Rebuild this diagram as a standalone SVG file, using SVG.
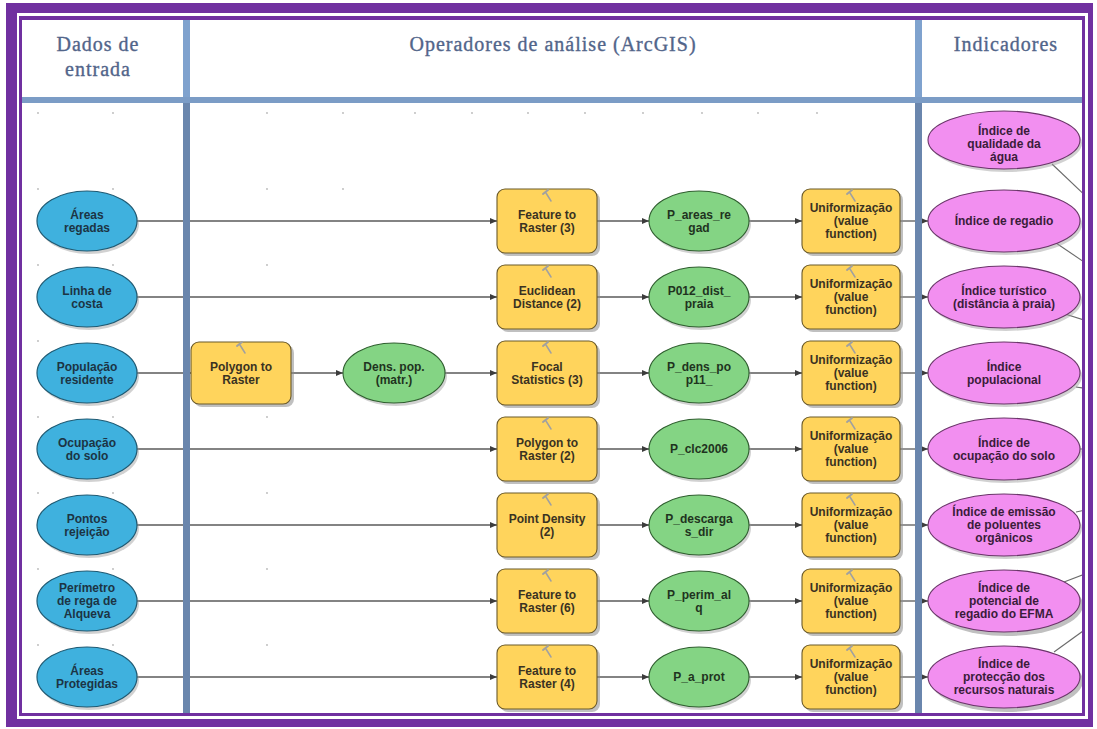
<svg xmlns="http://www.w3.org/2000/svg" width="1097" height="729" viewBox="0 0 1097 729">
  <defs>
    <style>
      .hdr { font-family: "Liberation Serif", "DejaVu Serif", serif; font-size: 20px; fill: #52658a; stroke: #52658a; stroke-width: 0.35; text-anchor: middle; letter-spacing: 1px; }
      .lbl { font-family: "Liberation Sans", Arial, sans-serif; font-size: 12px; font-weight: bold; text-anchor: middle; }
      .in-e { fill: #3fb1de; stroke: #1f5a73; stroke-width: 1.2; }
      .in-t { fill: #1c3444; }
      .tool { fill: #ffd45c; stroke: #6b5a2a; stroke-width: 1.1; }
      .tool-t { fill: #3a3222; }
      .data { fill: #84d484; stroke: #2f5e2f; stroke-width: 1.1; }
      .data-t { fill: #1f3320; }
      .ind { fill: #f28ff0; stroke: #6a3569; stroke-width: 1.1; }
      .ind-t { fill: #3a1c3a; }
      .shadow { fill: #8c8c8c; opacity: 0.55; }
      .eshadow { fill: #9a9a9a; opacity: 0.45; }
      .conn line { stroke: #5a5a5a; stroke-width: 1.3; }
      .conn line.arr { marker-end: url(#arrow); }
      .ext line { stroke: #6a6a6a; stroke-width: 1.1; }
      .icon { stroke: #a0a0a0; fill: none; stroke-linecap: round; }
      .dot { fill: #b8b8b8; }
    </style>
    <marker id="arrow" markerWidth="7" markerHeight="6" refX="7" refY="3" orient="auto" markerUnits="userSpaceOnUse">
      <path d="M0,0 L7,3 L0,6 z" fill="#3c3c3c"/>
    </marker>
    <clipPath id="content">
      <rect x="22" y="20" width="1060" height="693"/>
    </clipPath>
    <!-- small tool glyph placed at the top of every process box -->
    <g id="hammer">
      <path class="icon" stroke-width="1.5" d="M-1,-4 L4,4"/>
      <path class="icon" stroke-width="2" d="M-4,-3 L1,-7"/>
    </g>
  </defs>

  <!-- double purple frame -->
  <rect x="6" y="3" width="1087" height="724" fill="#7030a0"/>
  <rect x="17" y="13" width="1071" height="706" fill="#ffffff"/>
  <rect x="19" y="16" width="1066" height="700" fill="#7030a0"/>
  <rect x="22" y="20" width="1060" height="693" fill="#ffffff"/>

  <g clip-path="url(#content)">
    <!-- model grid dots -->
    <g id="grid">
      <circle class="dot" cx="38" cy="113" r="0.9"/><circle class="dot" cx="113" cy="113" r="0.9"/>
      <circle class="dot" cx="267" cy="113" r="0.9"/><circle class="dot" cx="343" cy="113" r="0.9"/>
      <circle class="dot" cx="415" cy="113" r="0.9"/><circle class="dot" cx="472" cy="113" r="0.9"/>
      <circle class="dot" cx="528" cy="113" r="0.9"/><circle class="dot" cx="585" cy="113" r="0.9"/>
      <circle class="dot" cx="643" cy="113" r="0.9"/><circle class="dot" cx="702" cy="113" r="0.9"/>
      <circle class="dot" cx="758" cy="113" r="0.9"/><circle class="dot" cx="817" cy="113" r="0.9"/>
      <circle class="dot" cx="38" cy="189" r="0.9"/><circle class="dot" cx="113" cy="189" r="0.9"/>
      <circle class="dot" cx="267" cy="189" r="0.9"/><circle class="dot" cx="343" cy="189" r="0.9"/>
      <circle class="dot" cx="38" cy="265" r="0.9"/><circle class="dot" cx="113" cy="265" r="0.9"/>
      <circle class="dot" cx="267" cy="265" r="0.9"/><circle class="dot" cx="38" cy="341" r="0.9"/>
      <circle class="dot" cx="38" cy="417" r="0.9"/><circle class="dot" cx="113" cy="417" r="0.9"/>
      <circle class="dot" cx="267" cy="417" r="0.9"/><circle class="dot" cx="38" cy="493" r="0.9"/>
      <circle class="dot" cx="113" cy="493" r="0.9"/><circle class="dot" cx="267" cy="493" r="0.9"/>
      <circle class="dot" cx="38" cy="569" r="0.9"/><circle class="dot" cx="113" cy="569" r="0.9"/>
      <circle class="dot" cx="267" cy="569" r="0.9"/><circle class="dot" cx="38" cy="645" r="0.9"/>
      <circle class="dot" cx="113" cy="645" r="0.9"/><circle class="dot" cx="267" cy="645" r="0.9"/>
    </g>

    <!-- connectors -->
    <g id="connectors" class="conn">
      <line class="arr" x1="137" y1="221" x2="497" y2="221"/>
      <line class="arr" x1="597" y1="221" x2="649" y2="221"/>
      <line class="arr" x1="749" y1="221" x2="802" y2="221"/>
      <line class="arr" x1="900" y1="221" x2="928" y2="221"/>

      <line class="arr" x1="137" y1="297" x2="497" y2="297"/>
      <line class="arr" x1="597" y1="297" x2="649" y2="297"/>
      <line class="arr" x1="749" y1="297" x2="802" y2="297"/>
      <line class="arr" x1="900" y1="297" x2="928" y2="297"/>

      <line class="arr" x1="137" y1="373" x2="191" y2="373"/>
      <line class="arr" x1="291" y1="373" x2="343" y2="373"/>
      <line class="arr" x1="445" y1="373" x2="497" y2="373"/>
      <line class="arr" x1="597" y1="373" x2="649" y2="373"/>
      <line class="arr" x1="749" y1="373" x2="802" y2="373"/>
      <line class="arr" x1="900" y1="373" x2="928" y2="373"/>

      <line class="arr" x1="137" y1="449" x2="497" y2="449"/>
      <line class="arr" x1="597" y1="449" x2="649" y2="449"/>
      <line class="arr" x1="749" y1="449" x2="802" y2="449"/>
      <line class="arr" x1="900" y1="449" x2="928" y2="449"/>

      <line class="arr" x1="137" y1="525" x2="497" y2="525"/>
      <line class="arr" x1="597" y1="525" x2="649" y2="525"/>
      <line class="arr" x1="749" y1="525" x2="802" y2="525"/>
      <line class="arr" x1="900" y1="525" x2="928" y2="525"/>

      <line class="arr" x1="137" y1="601" x2="497" y2="601"/>
      <line class="arr" x1="597" y1="601" x2="649" y2="601"/>
      <line class="arr" x1="749" y1="601" x2="802" y2="601"/>
      <line class="arr" x1="900" y1="601" x2="928" y2="601"/>

      <line class="arr" x1="137" y1="677" x2="497" y2="677"/>
      <line class="arr" x1="597" y1="677" x2="649" y2="677"/>
      <line class="arr" x1="749" y1="677" x2="802" y2="677"/>
      <line class="arr" x1="900" y1="677" x2="928" y2="677"/>
    </g>
    <!-- indicator links leaving the frame to the right -->
    <g id="outgoing" class="ext">
      <line x1="1052" y1="164" x2="1090" y2="200"/>
      <line x1="1056" y1="243" x2="1090" y2="266"/>
      <line x1="1065" y1="314" x2="1090" y2="322"/>
      <line x1="1076" y1="387" x2="1090" y2="389"/>
      <line x1="1080" y1="449" x2="1090" y2="449"/>
      <line x1="1076" y1="512" x2="1090" y2="509"/>
      <line x1="1064" y1="582" x2="1090" y2="572"/>
      <line x1="1054" y1="652" x2="1090" y2="626"/>
    </g>

    <!-- column and header rules -->
    <g id="rules">
      <rect x="22" y="97" width="1060" height="6" fill="#7b9cc6"/>
      <rect x="183" y="20" width="7" height="77" fill="#7fa2ce"/>
      <rect x="183" y="103" width="7" height="610" fill="#6a86ad"/>
      <rect x="915" y="20" width="7" height="77" fill="#7fa2ce"/>
      <rect x="915" y="103" width="7" height="610" fill="#6a86ad"/>
    </g>

    <!-- headers -->
    <g id="headers">
      <text class="hdr" x="98" y="51">Dados de</text>
      <text class="hdr" x="98" y="76">entrada</text>
      <text class="hdr" x="553" y="51">Operadores de análise (ArcGIS)</text>
      <text class="hdr" x="1006" y="51">Indicadores</text>
    </g>

    <!-- input datasets -->
    <g id="in-areas-regadas">
      <ellipse class="eshadow" cx="89" cy="224" rx="50" ry="30"/>
      <ellipse class="in-e" cx="87" cy="221" rx="50" ry="30"/>
      <text class="lbl in-t" x="87" y="219">Áreas</text>
      <text class="lbl in-t" x="87" y="232">regadas</text>
    </g>
    <g id="in-linha-costa">
      <ellipse class="eshadow" cx="89" cy="300" rx="50" ry="30"/>
      <ellipse class="in-e" cx="87" cy="297" rx="50" ry="30"/>
      <text class="lbl in-t" x="87" y="295">Linha de</text>
      <text class="lbl in-t" x="87" y="308">costa</text>
    </g>
    <g id="in-populacao">
      <ellipse class="eshadow" cx="89" cy="376" rx="50" ry="30"/>
      <ellipse class="in-e" cx="87" cy="373" rx="50" ry="30"/>
      <text class="lbl in-t" x="87" y="371">População</text>
      <text class="lbl in-t" x="87" y="384">residente</text>
    </g>
    <g id="in-ocupacao">
      <ellipse class="eshadow" cx="89" cy="452" rx="50" ry="30"/>
      <ellipse class="in-e" cx="87" cy="449" rx="50" ry="30"/>
      <text class="lbl in-t" x="87" y="447">Ocupação</text>
      <text class="lbl in-t" x="87" y="460">do solo</text>
    </g>
    <g id="in-pontos">
      <ellipse class="eshadow" cx="89" cy="528" rx="50" ry="30"/>
      <ellipse class="in-e" cx="87" cy="525" rx="50" ry="30"/>
      <text class="lbl in-t" x="87" y="523">Pontos</text>
      <text class="lbl in-t" x="87" y="536">rejeição</text>
    </g>
    <g id="in-perimetro">
      <ellipse class="eshadow" cx="89" cy="604" rx="50" ry="30"/>
      <ellipse class="in-e" cx="87" cy="601" rx="50" ry="30"/>
      <text class="lbl in-t" x="87" y="592">Perímetro</text>
      <text class="lbl in-t" x="87" y="605">de rega de</text>
      <text class="lbl in-t" x="87" y="618">Alqueva</text>
    </g>
    <g id="in-protegidas">
      <ellipse class="eshadow" cx="89" cy="680" rx="50" ry="30"/>
      <ellipse class="in-e" cx="87" cy="677" rx="50" ry="30"/>
      <text class="lbl in-t" x="87" y="675">Áreas</text>
      <text class="lbl in-t" x="87" y="688">Protegidas</text>
    </g>

    <!-- Polygon to Raster and its output -->
    <g id="tool-polygon-raster">
      <rect class="shadow" x="194" y="345" width="100" height="62" rx="8"/>
      <rect class="tool" x="191" y="342" width="100" height="62" rx="8"/>
      <use href="#hammer" x="241" y="349"/>
      <text class="lbl tool-t" x="241" y="371">Polygon to</text>
      <text class="lbl tool-t" x="241" y="384">Raster</text>
    </g>
    <g id="data-dens-pop">
      <ellipse class="eshadow" cx="396" cy="376" rx="51" ry="30"/>
      <ellipse class="data" cx="394" cy="373" rx="51" ry="30"/>
      <text class="lbl data-t" x="394" y="371">Dens. pop.</text>
      <text class="lbl data-t" x="394" y="384">(matr.)</text>
    </g>

    <!-- first tool column -->
    <g id="tool-feat-raster-3">
      <rect class="shadow" x="500" y="192" width="100" height="64" rx="8"/>
      <rect class="tool" x="497" y="189" width="100" height="64" rx="8"/>
      <use href="#hammer" x="547" y="197"/>
      <text class="lbl tool-t" x="547" y="219">Feature to</text>
      <text class="lbl tool-t" x="547" y="232">Raster (3)</text>
    </g>
    <g id="tool-euclidean-2">
      <rect class="shadow" x="500" y="268" width="100" height="64" rx="8"/>
      <rect class="tool" x="497" y="265" width="100" height="64" rx="8"/>
      <use href="#hammer" x="547" y="273"/>
      <text class="lbl tool-t" x="547" y="295">Euclidean</text>
      <text class="lbl tool-t" x="547" y="308">Distance (2)</text>
    </g>
    <g id="tool-focal-3">
      <rect class="shadow" x="500" y="344" width="100" height="64" rx="8"/>
      <rect class="tool" x="497" y="341" width="100" height="64" rx="8"/>
      <use href="#hammer" x="547" y="349"/>
      <text class="lbl tool-t" x="547" y="371">Focal</text>
      <text class="lbl tool-t" x="547" y="384">Statistics (3)</text>
    </g>
    <g id="tool-polygon-raster-2">
      <rect class="shadow" x="500" y="420" width="100" height="64" rx="8"/>
      <rect class="tool" x="497" y="417" width="100" height="64" rx="8"/>
      <use href="#hammer" x="547" y="425"/>
      <text class="lbl tool-t" x="547" y="447">Polygon to</text>
      <text class="lbl tool-t" x="547" y="460">Raster (2)</text>
    </g>
    <g id="tool-point-density-2">
      <rect class="shadow" x="500" y="496" width="100" height="64" rx="8"/>
      <rect class="tool" x="497" y="493" width="100" height="64" rx="8"/>
      <use href="#hammer" x="547" y="501"/>
      <text class="lbl tool-t" x="547" y="523">Point Density</text>
      <text class="lbl tool-t" x="547" y="536">(2)</text>
    </g>
    <g id="tool-feat-raster-6">
      <rect class="shadow" x="500" y="572" width="100" height="64" rx="8"/>
      <rect class="tool" x="497" y="569" width="100" height="64" rx="8"/>
      <use href="#hammer" x="547" y="577"/>
      <text class="lbl tool-t" x="547" y="599">Feature to</text>
      <text class="lbl tool-t" x="547" y="612">Raster (6)</text>
    </g>
    <g id="tool-feat-raster-4">
      <rect class="shadow" x="500" y="648" width="100" height="64" rx="8"/>
      <rect class="tool" x="497" y="645" width="100" height="64" rx="8"/>
      <use href="#hammer" x="547" y="653"/>
      <text class="lbl tool-t" x="547" y="675">Feature to</text>
      <text class="lbl tool-t" x="547" y="688">Raster (4)</text>
    </g>

    <!-- intermediate rasters -->
    <g id="data-areas-regad">
      <ellipse class="eshadow" cx="701" cy="224" rx="50" ry="30"/>
      <ellipse class="data" cx="699" cy="221" rx="50" ry="30"/>
      <text class="lbl data-t" x="699" y="219">P_areas_re</text>
      <text class="lbl data-t" x="699" y="232">gad</text>
    </g>
    <g id="data-dist-praia">
      <ellipse class="eshadow" cx="701" cy="300" rx="50" ry="30"/>
      <ellipse class="data" cx="699" cy="297" rx="50" ry="30"/>
      <text class="lbl data-t" x="699" y="295">P012_dist_</text>
      <text class="lbl data-t" x="699" y="308">praia</text>
    </g>
    <g id="data-dens-pop11">
      <ellipse class="eshadow" cx="701" cy="376" rx="50" ry="30"/>
      <ellipse class="data" cx="699" cy="373" rx="50" ry="30"/>
      <text class="lbl data-t" x="699" y="371">P_dens_po</text>
      <text class="lbl data-t" x="699" y="384">p11_</text>
    </g>
    <g id="data-clc2006">
      <ellipse class="eshadow" cx="701" cy="452" rx="50" ry="30"/>
      <ellipse class="data" cx="699" cy="449" rx="50" ry="30"/>
      <text class="lbl data-t" x="699" y="453">P_clc2006</text>
    </g>
    <g id="data-descargas">
      <ellipse class="eshadow" cx="701" cy="528" rx="50" ry="30"/>
      <ellipse class="data" cx="699" cy="525" rx="50" ry="30"/>
      <text class="lbl data-t" x="699" y="523">P_descarga</text>
      <text class="lbl data-t" x="699" y="536">s_dir</text>
    </g>
    <g id="data-perim-alq">
      <ellipse class="eshadow" cx="701" cy="604" rx="50" ry="30"/>
      <ellipse class="data" cx="699" cy="601" rx="50" ry="30"/>
      <text class="lbl data-t" x="699" y="599">P_perim_al</text>
      <text class="lbl data-t" x="699" y="612">q</text>
    </g>
    <g id="data-a-prot">
      <ellipse class="eshadow" cx="701" cy="680" rx="50" ry="30"/>
      <ellipse class="data" cx="699" cy="677" rx="50" ry="30"/>
      <text class="lbl data-t" x="699" y="681">P_a_prot</text>
    </g>

    <!-- value-function standardisation -->
    <g id="vf-1">
      <rect class="shadow" x="805" y="192" width="98" height="64" rx="8"/>
      <rect class="tool" x="802" y="189" width="98" height="64" rx="8"/>
      <use href="#hammer" x="851" y="197"/>
      <text class="lbl tool-t" x="851" y="212">Uniformização</text>
      <text class="lbl tool-t" x="851" y="225">(value</text>
      <text class="lbl tool-t" x="851" y="238">function)</text>
    </g>
    <g id="vf-2">
      <rect class="shadow" x="805" y="268" width="98" height="64" rx="8"/>
      <rect class="tool" x="802" y="265" width="98" height="64" rx="8"/>
      <use href="#hammer" x="851" y="273"/>
      <text class="lbl tool-t" x="851" y="288">Uniformização</text>
      <text class="lbl tool-t" x="851" y="301">(value</text>
      <text class="lbl tool-t" x="851" y="314">function)</text>
    </g>
    <g id="vf-3">
      <rect class="shadow" x="805" y="344" width="98" height="64" rx="8"/>
      <rect class="tool" x="802" y="341" width="98" height="64" rx="8"/>
      <use href="#hammer" x="851" y="349"/>
      <text class="lbl tool-t" x="851" y="364">Uniformização</text>
      <text class="lbl tool-t" x="851" y="377">(value</text>
      <text class="lbl tool-t" x="851" y="390">function)</text>
    </g>
    <g id="vf-4">
      <rect class="shadow" x="805" y="420" width="98" height="64" rx="8"/>
      <rect class="tool" x="802" y="417" width="98" height="64" rx="8"/>
      <use href="#hammer" x="851" y="425"/>
      <text class="lbl tool-t" x="851" y="440">Uniformização</text>
      <text class="lbl tool-t" x="851" y="453">(value</text>
      <text class="lbl tool-t" x="851" y="466">function)</text>
    </g>
    <g id="vf-5">
      <rect class="shadow" x="805" y="496" width="98" height="64" rx="8"/>
      <rect class="tool" x="802" y="493" width="98" height="64" rx="8"/>
      <use href="#hammer" x="851" y="501"/>
      <text class="lbl tool-t" x="851" y="516">Uniformização</text>
      <text class="lbl tool-t" x="851" y="529">(value</text>
      <text class="lbl tool-t" x="851" y="542">function)</text>
    </g>
    <g id="vf-6">
      <rect class="shadow" x="805" y="572" width="98" height="64" rx="8"/>
      <rect class="tool" x="802" y="569" width="98" height="64" rx="8"/>
      <use href="#hammer" x="851" y="577"/>
      <text class="lbl tool-t" x="851" y="592">Uniformização</text>
      <text class="lbl tool-t" x="851" y="605">(value</text>
      <text class="lbl tool-t" x="851" y="618">function)</text>
    </g>
    <g id="vf-7">
      <rect class="shadow" x="805" y="648" width="98" height="64" rx="8"/>
      <rect class="tool" x="802" y="645" width="98" height="64" rx="8"/>
      <use href="#hammer" x="851" y="653"/>
      <text class="lbl tool-t" x="851" y="668">Uniformização</text>
      <text class="lbl tool-t" x="851" y="681">(value</text>
      <text class="lbl tool-t" x="851" y="694">function)</text>
    </g>

    <!-- indicators -->
    <g id="ind-qualidade-agua">
      <ellipse class="eshadow" cx="1006" cy="143" rx="76" ry="29"/>
      <ellipse class="ind" cx="1004" cy="140" rx="76" ry="29"/>
      <text class="lbl ind-t" x="1004" y="135">Índice de</text>
      <text class="lbl ind-t" x="1004" y="148">qualidade da</text>
      <text class="lbl ind-t" x="1004" y="161">água</text>
    </g>
    <g id="ind-regadio">
      <ellipse class="eshadow" cx="1006" cy="224" rx="76" ry="31"/>
      <ellipse class="ind" cx="1004" cy="221" rx="76" ry="31"/>
      <text class="lbl ind-t" x="1004" y="225">Índice de regadio</text>
    </g>
    <g id="ind-turistico">
      <ellipse class="eshadow" cx="1006" cy="300" rx="76" ry="31"/>
      <ellipse class="ind" cx="1004" cy="297" rx="76" ry="31"/>
      <text class="lbl ind-t" x="1004" y="295">Índice turístico</text>
      <text class="lbl ind-t" x="1004" y="308">(distância à praia)</text>
    </g>
    <g id="ind-populacional">
      <ellipse class="eshadow" cx="1006" cy="376" rx="76" ry="31"/>
      <ellipse class="ind" cx="1004" cy="373" rx="76" ry="31"/>
      <text class="lbl ind-t" x="1004" y="371">Índice</text>
      <text class="lbl ind-t" x="1004" y="384">populacional</text>
    </g>
    <g id="ind-ocupacao-solo">
      <ellipse class="eshadow" cx="1006" cy="452" rx="76" ry="31"/>
      <ellipse class="ind" cx="1004" cy="449" rx="76" ry="31"/>
      <text class="lbl ind-t" x="1004" y="447">Índice de</text>
      <text class="lbl ind-t" x="1004" y="460">ocupação do solo</text>
    </g>
    <g id="ind-emissao">
      <ellipse class="eshadow" cx="1006" cy="528" rx="76" ry="31"/>
      <ellipse class="ind" cx="1004" cy="525" rx="76" ry="31"/>
      <text class="lbl ind-t" x="1004" y="516">Índice de emissão</text>
      <text class="lbl ind-t" x="1004" y="529">de poluentes</text>
      <text class="lbl ind-t" x="1004" y="542">orgânicos</text>
    </g>
    <g id="ind-potencial-efma">
      <ellipse class="shadow" cx="1007" cy="605" rx="76" ry="31"/>
      <ellipse class="ind" cx="1004" cy="601" rx="76" ry="31"/>
      <text class="lbl ind-t" x="1004" y="592">Índice de</text>
      <text class="lbl ind-t" x="1004" y="605">potencial de</text>
      <text class="lbl ind-t" x="1004" y="618">regadio do EFMA</text>
    </g>
    <g id="ind-proteccao">
      <ellipse class="shadow" cx="1007" cy="681" rx="76" ry="31"/>
      <ellipse class="ind" cx="1004" cy="677" rx="76" ry="31"/>
      <text class="lbl ind-t" x="1004" y="668">Índice de</text>
      <text class="lbl ind-t" x="1004" y="681">protecção dos</text>
      <text class="lbl ind-t" x="1004" y="694">recursos naturais</text>
    </g>
  </g>
</svg>
